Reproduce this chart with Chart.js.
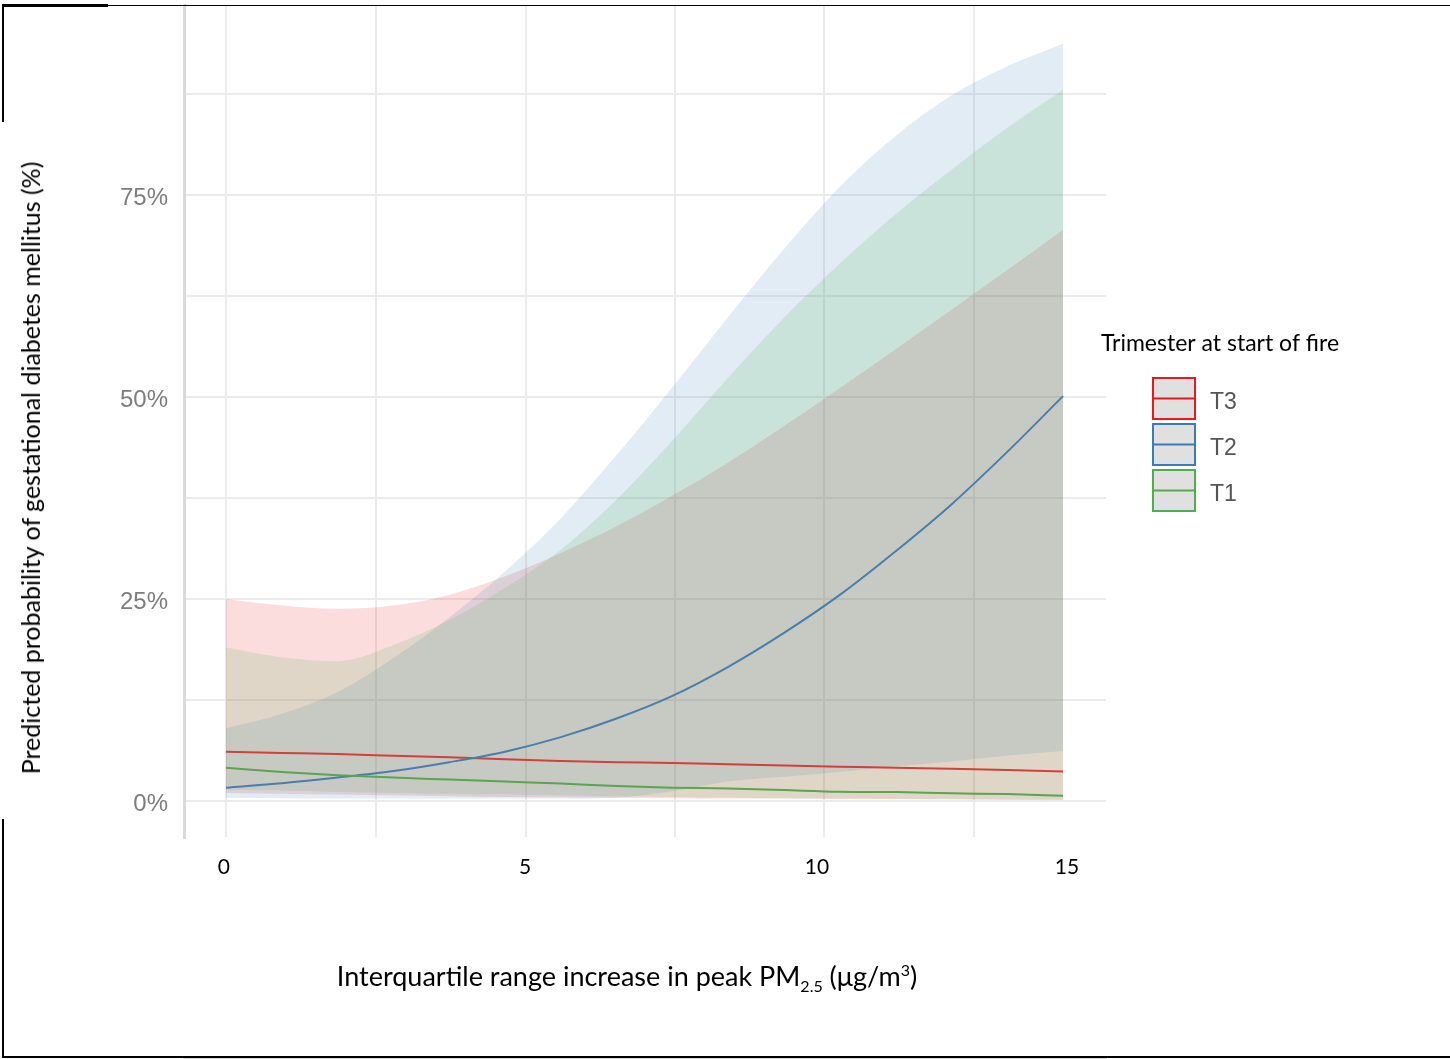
<!DOCTYPE html>
<html>
<head>
<meta charset="utf-8">
<script src="https://cdn.jsdelivr.net/npm/chart.js@4.4.1/dist/chart.umd.min.js"></script>
<style>
  body { margin: 0; background: #fff; }
  #wrap { position: relative; width: 1450px; height: 1059px; overflow: hidden; }
  #chart { position: absolute; left: 0; top: 0; }
  .frame { position: absolute; background: #000; }
  .xtitle { position: absolute; left: 627px; top: 977px; transform: translate(-50%, -50%);
            white-space: nowrap; font-family: Lato, sans-serif; font-size: 27px; color: #000; }
  .xtitle sub, .xtitle sup { font-size: 16px; }
  .ytitle { position: absolute; left: 30px; top: 468px; transform: translate(-50%, -50%) rotate(-90deg);
            white-space: nowrap; font-family: Lato, sans-serif; font-size: 25px; color: #000; }
</style>
</head>
<body>
<div id="wrap">
  <canvas id="chart" width="1450" height="1059"></canvas>
  <div class="frame" style="left:2px;top:4px;width:106px;height:3px"></div>
  <div class="frame" style="left:108px;top:5px;width:1342px;height:1px"></div>
  <div class="frame" style="left:2px;top:4px;width:2px;height:118px"></div>
  <div class="frame" style="left:2px;top:819px;width:2px;height:239px"></div>
  <div class="frame" style="left:2px;top:1056px;width:1448px;height:2px"></div>
  <div class="xtitle">Interquartile range increase in peak PM<sub>2.5</sub> (μg/m<sup>3</sup>)</div>
  <div class="ytitle">Predicted probability of gestational diabetes mellitus (%)</div>
</div>
<script>
// x positions (label units), one reading per unit
const xVals = [0, 1, 2, 3, 4, 5, 6, 7, 8, 9, 10, 11, 12, 13, 14, 15];

// predicted probability (%) and 95% band per trimester
const t1Fit  = [4.1, 3.6, 3.2, 2.9, 2.65, 2.4, 2.15, 1.85, 1.65, 1.55, 1.35, 1.15, 1.1, 0.95, 0.85, 0.65];
const t1Low  = [1.4, 1.3, 1.1, 1.0, 0.9, 0.8, 0.7, 0.6, 0.5, 0.4, 0.35, 0.3, 0.25, 0.2, 0.15, 0.1];
const t1High = [19.0, 17.8, 17.3, 19.3, 22.4, 26.4, 31.1, 37.3, 44.6, 52.4, 59.8, 66.5, 72.6, 78.1, 83.3, 88.0];

const t2Fit  = [1.65, 2.2, 2.9, 3.7, 4.8, 6.1, 7.9, 10.2, 13.0, 16.6, 20.8, 25.5, 30.9, 36.7, 43.2, 50.1];
const t2Low  = [0.4, 0.35, 0.3, 0.3, 0.3, 0.3, 0.3, 0.4, 1.2, 2.4, 3.0, 3.6, 4.3, 4.9, 5.6, 6.2];
const t2High = [9.0, 10.8, 13.5, 17.7, 22.7, 28.4, 35.0, 42.8, 51.2, 59.9, 68.3, 76.0, 82.3, 87.3, 90.9, 93.7];

const t3Fit  = [6.1, 5.95, 5.8, 5.6, 5.4, 5.15, 4.95, 4.8, 4.7, 4.55, 4.4, 4.25, 4.1, 4.0, 3.85, 3.65];
const t3Low  = [1.0, 0.9, 0.8, 0.7, 0.6, 0.5, 0.45, 0.4, 0.35, 0.3, 0.3, 0.25, 0.2, 0.2, 0.15, 0.15];
const t3High = [25.0, 24.2, 23.8, 24.2, 25.5, 27.8, 30.7, 34.0, 37.8, 41.9, 46.4, 51.1, 55.9, 60.8, 65.7, 70.7];

// axes
const yMajor = [0, 25, 50, 75];
const yMinor = [12.5, 37.5, 62.5, 87.5];
const xGridLines = [0, 2.69, 5.38, 8.05, 10.72, 13.4];
const xTickLabels = ['0', '5', '10', '15'];
const xTickAt = [-0.04, 5.36, 10.59, 15.07];

const legendTitle = 'Trimester at start of fire';
const groups = [
  { name: 'T1', fit: t1Fit, low: t1Low, high: t1High, color: '#4daf4a', line: '#5aa452' },
  { name: 'T2', fit: t2Fit, low: t2Low, high: t2High, color: '#377eb8', line: '#4a7eaa' },
  { name: 'T3', fit: t3Fit, low: t3Low, high: t3High, color: '#e41a1c', line: '#d2403a' }
];
const legendOrder = ['T3', 'T2', 'T1'];

function pts(arr) { return arr.map((v, i) => ({ x: xVals[i], y: v })); }
function alpha(hex, a) {
  const n = parseInt(hex.slice(1), 16);
  return `rgba(${n >> 16},${(n >> 8) & 255},${n & 255},${a})`;
}

const datasets = [];
groups.forEach(g => {
  datasets.push({ label: g.name + ' low', data: pts(g.low), borderWidth: 0, pointRadius: 0,
    fill: false, order: 5, cubicInterpolationMode: 'monotone' });
  datasets.push({ label: g.name + ' high', data: pts(g.high), borderWidth: 0, pointRadius: 0,
    fill: '-1', backgroundColor: alpha(g.color, 0.15), order: 5, cubicInterpolationMode: 'monotone' });
});
groups.forEach(g => {
  datasets.push({ label: g.name, data: pts(g.fit), borderColor: g.line, borderWidth: 2,
    pointRadius: 0, fill: false, order: 1, cubicInterpolationMode: 'monotone' });
});

// legend drawn at the right of the panel
const trimLegend = {
  id: 'trimLegend',
  afterDraw(chart) {
    const ctx = chart.ctx, a = chart.chartArea;
    ctx.save();
    ctx.fillStyle = '#000';
    ctx.font = '23px Lato, sans-serif';
    ctx.textBaseline = 'middle';
    ctx.textAlign = 'left';
    ctx.fillText(legendTitle, a.right - 5, 344);
    legendOrder.forEach((name, i) => {
      const g = groups.find(gr => gr.name === name);
      const bx = a.right + 47, by = 378 + i * 46, bw = 42, bh = 41;
      ctx.fillStyle = '#e0e0e0';
      ctx.fillRect(bx, by, bw, bh);
      ctx.strokeStyle = g.color;
      ctx.lineWidth = 2;
      ctx.strokeRect(bx, by, bw, bh);
      ctx.beginPath();
      ctx.moveTo(bx, by + bh / 2);
      ctx.lineTo(bx + bw, by + bh / 2);
      ctx.stroke();
      ctx.fillStyle = '#555';
      ctx.font = '23px "Liberation Sans", Arial, sans-serif';
      ctx.fillText(name, a.right + 104, by + bh / 2 + 4);
    });
    ctx.restore();
  }
};

new Chart(document.getElementById('chart'), {
  type: 'line',
  data: { datasets },
  plugins: [trimLegend],
  options: {
    responsive: false,
    animation: false,
    devicePixelRatio: 1,
    layout: { padding: { top: 5, right: 344, left: 0, bottom: 0 } },
    plugins: { legend: { display: false }, tooltip: { enabled: false } },
    scales: {
      x: {
        type: 'linear', position: 'bottom', min: -0.753, max: 15.77, weight: 1,
        afterBuildTicks: s => { s.ticks = xGridLines.map(v => ({ value: v })); },
        afterFit: s => { s.height = 0; s.paddingLeft = 0; s.paddingRight = 0; },
        ticks: { display: false },
        grid: { color: '#ebebeb', lineWidth: 2, drawTicks: false },
        border: { color: '#d9d9d9', width: 3 }
      },
      x2: {
        type: 'linear', position: 'bottom', min: -0.753, max: 15.77, weight: 0,
        afterBuildTicks: s => { s.ticks = xTickAt.map(v => ({ value: v })); },
        afterFit: s => { s.height = 221; s.paddingLeft = 0; s.paddingRight = 0; },
        ticks: {
          autoSkip: false, maxRotation: 0, padding: 17, color: '#000',
          font: { family: 'Lato', size: 21 },
          callback: (v, i) => xTickLabels[i]
        },
        grid: { display: false, drawTicks: false },
        border: { display: false }
      },
      y: {
        type: 'linear', min: -4.58, max: 98.5,
        afterBuildTicks: s => { s.ticks = yMajor.concat(yMinor).sort((p, q) => p - q).map(v => ({ value: v })); },
        afterFit: s => { s.width = 184; s.paddingTop = 0; s.paddingBottom = 0; },
        ticks: {
          autoSkip: false, padding: 16, labelOffset: 3, color: '#7d7d7d',
          font: { family: 'Liberation Sans', size: 24 },
          callback: v => yMajor.includes(v) ? v + '%' : ''
        },
        grid: { color: '#ebebeb', lineWidth: 2, drawTicks: false },
        border: { color: '#d9d9d9', width: 3 }
      }
    }
  }
});
</script>
</body>
</html>
